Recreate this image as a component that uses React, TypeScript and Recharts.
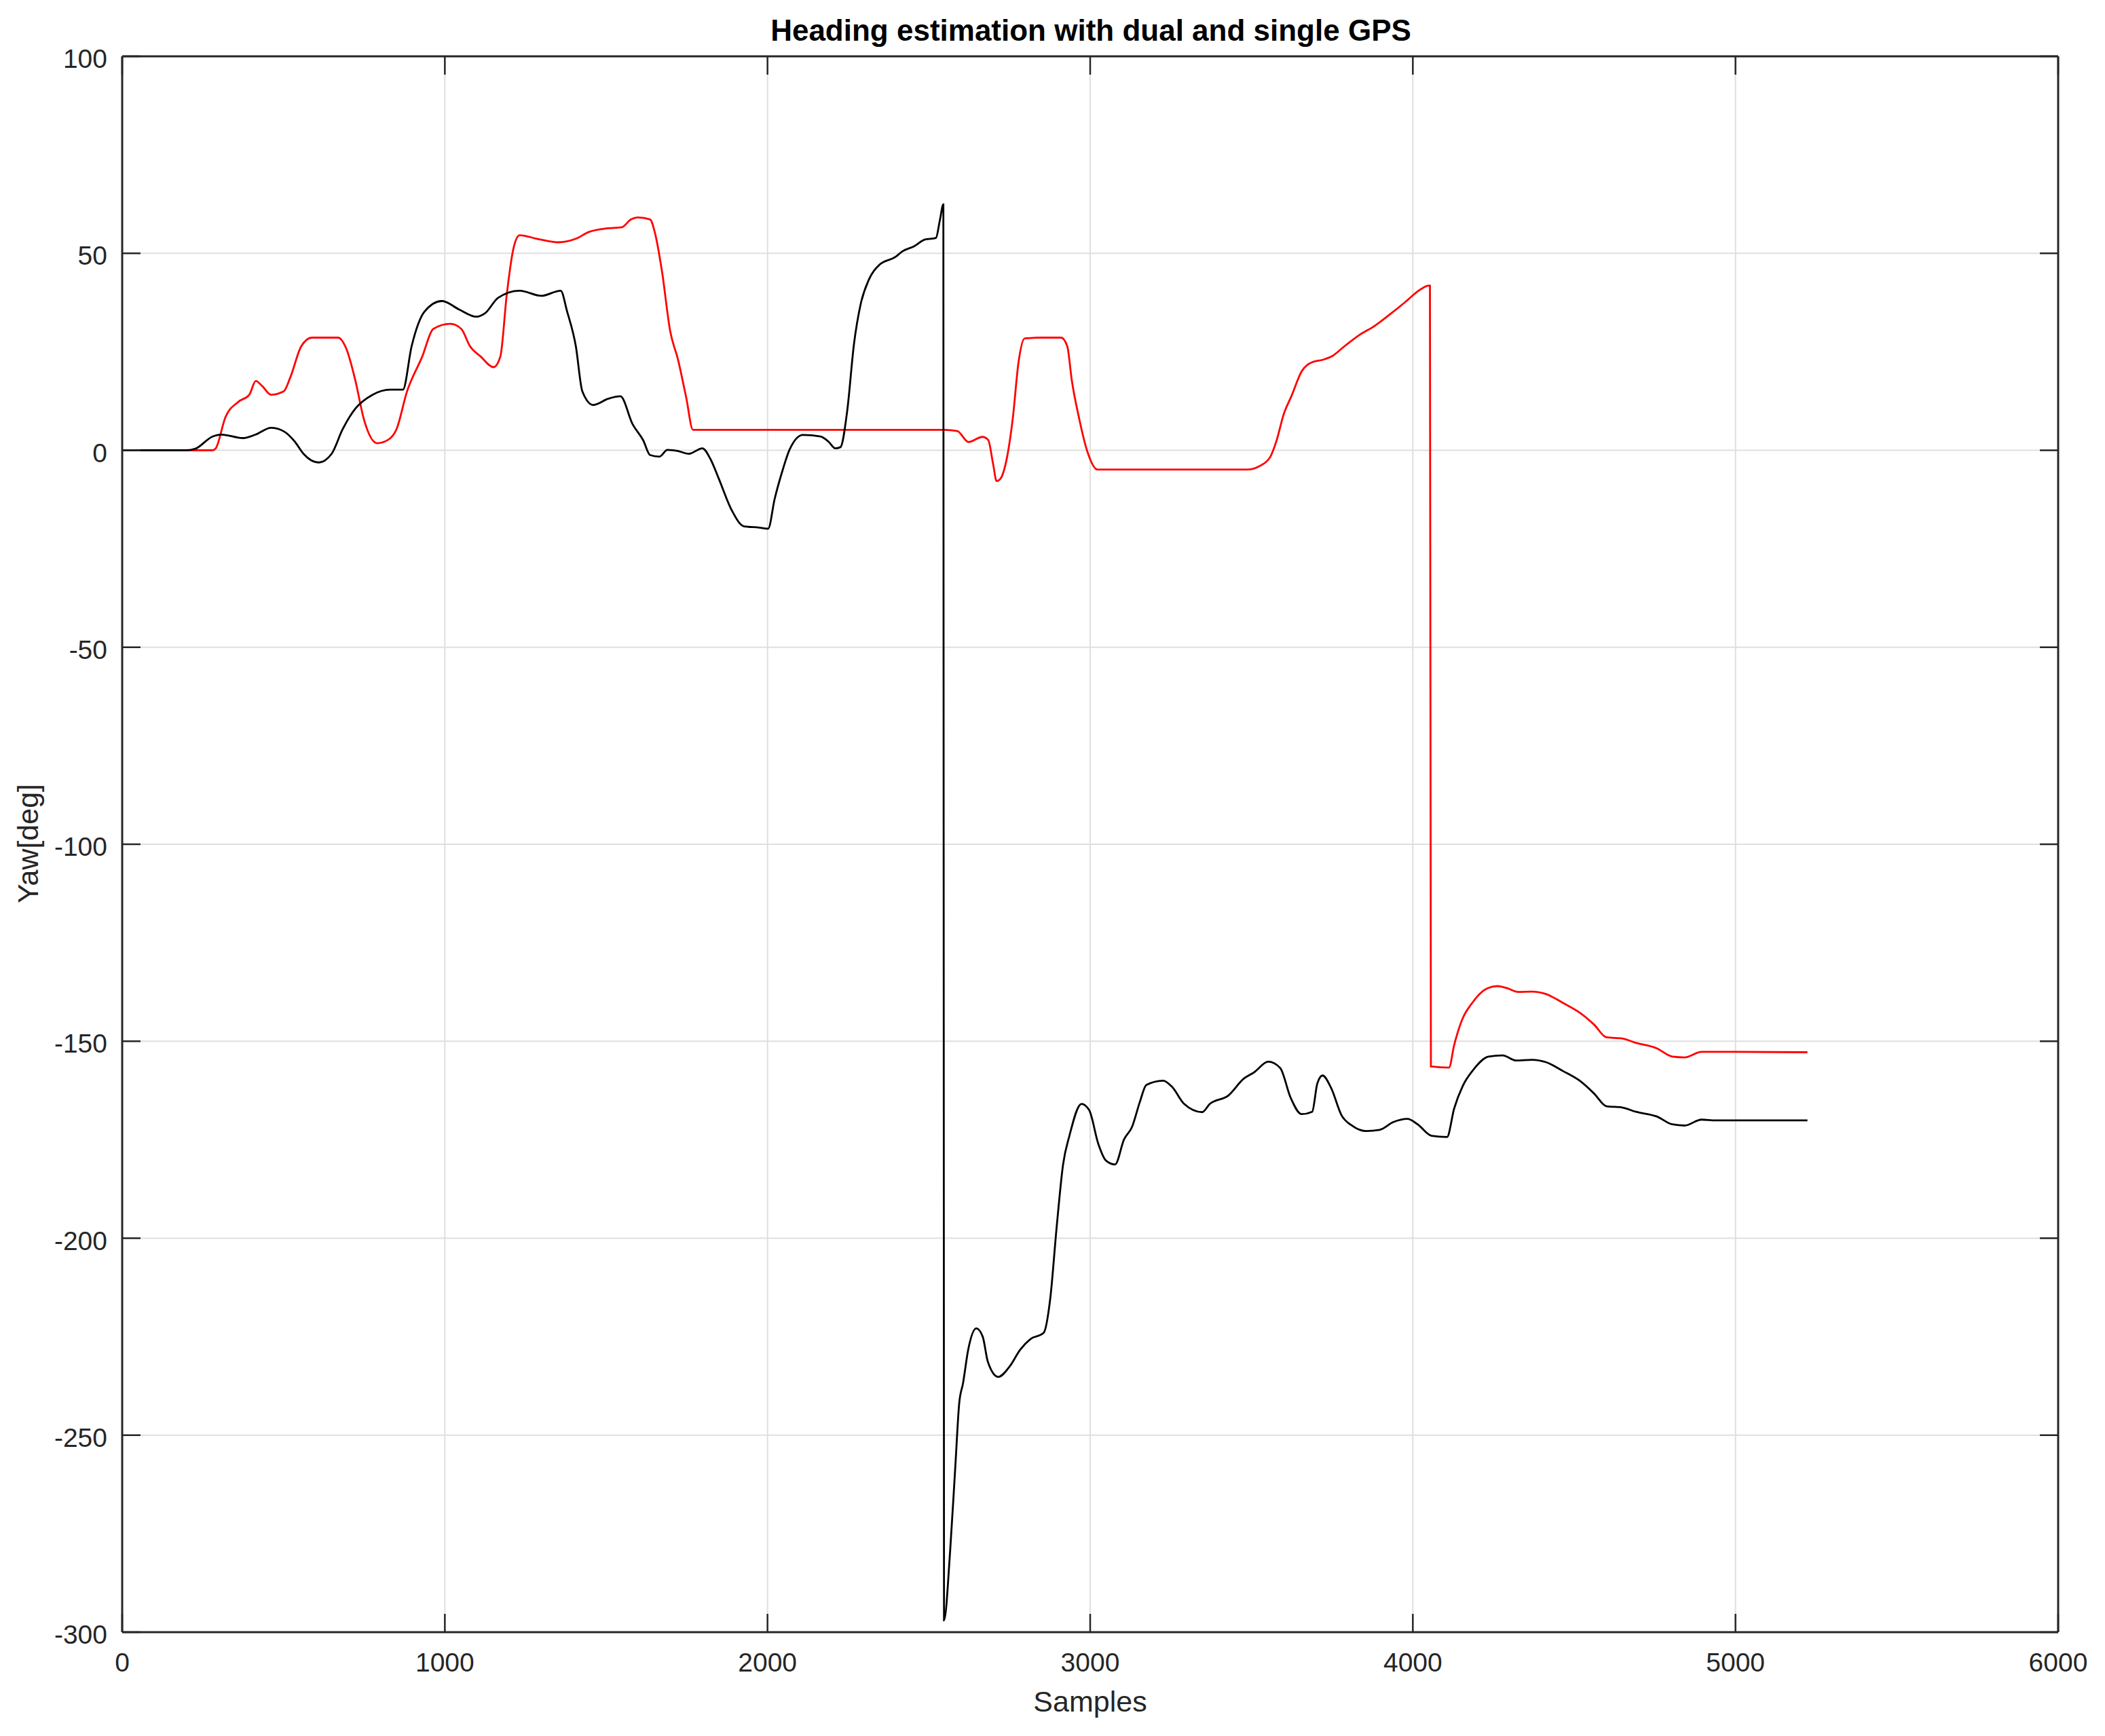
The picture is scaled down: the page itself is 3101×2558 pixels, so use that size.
import React from "react";
import { LineChart, Line, XAxis, YAxis, CartesianGrid } from "recharts";

// red trace
const dualSamples = [
  0, 280, 290, 320, 360, 394, 414, 434, 461, 501, 521, 555, 588, 669, 696, 723, 749, 790, 823, 850,
  883, 930, 964, 1017, 1051, 1078, 1111, 1151, 1172, 1192, 1212, 1232, 1285, 1352, 1406, 1446, 1500,
  1548, 1577, 1598, 1636, 1652, 1673, 1698, 1723, 1748, 1769, 2547, 2588, 2623, 2666, 2684, 2699,
  2710, 2722, 2741, 2760, 2778, 2797, 2849, 2910, 2929, 2943, 2966, 2990, 3023, 3487, 3525, 3558,
  3577, 3600, 3624, 3656, 3689, 3722, 3750, 3788, 3835, 3882, 3929, 3976, 4013, 4035, 4048, 4053,
  4056, 4112, 4128, 4155, 4181, 4230, 4262, 4294, 4326, 4369, 4412, 4466, 4520, 4562, 4600, 4648,
  4691, 4756, 4804, 4842, 4895, 4938, 5223,
];
const dualYaw = [
  0, 0, 0.5, 8.4, 12.3, 14.1, 17.6, 16.3, 14.1, 15, 18.5, 26.4, 28.6, 28.6, 25.5, 17.6, 7.9, 1.8, 2.6,
  5.3, 15, 23.8, 30.8, 32.1, 30.8, 26.4, 23.8, 21.1, 23.8, 39.6, 51, 54.6, 53.7, 52.8, 53.7, 55.4,
  56.3, 56.6, 58.6, 59.1, 58.6, 54.9, 45.4, 30.4, 22.9, 13.4, 5.2, 5.2, 4.9, 2.1, 3.4, 2.6, -3.4, -7.8,
  -7.2, -2.3, 8, 22.4, 28.4, 28.6, 28.6, 26.4, 17.8, 8, 0, -4.9, -4.9, -4, -1.7, 2.3, 9.2, 13.8, 20.1,
  22.4, 23, 23.9, 26.4, 29.3, 31.6, 34.5, 37.6, 40.2, 41.4, 41.8, 41.8, -156.4, -156.7, -151, -144.1,
  -140.6, -136.6, -136, -136.6, -137.5, -137.4, -138, -140.3, -142.9, -145.8, -149, -149.3, -150.4,
  -151.8, -153.9, -154.1, -152.7, -152.7, -152.8,
];

// black trace
const singleSamples = [
  0, 200, 227, 280, 307, 374, 414, 461, 501, 535, 562, 609, 649, 683, 723, 776, 830, 870, 897, 937,
  991, 1045, 1098, 1125, 1165, 1232, 1299, 1359, 1379, 1406, 1426, 1460, 1507, 1544, 1582, 1615,
  1636, 1665, 1690, 1723, 1756, 1798, 1823, 1848, 1889, 1927, 1973, 2002, 2022, 2047, 2068, 2110,
  2164, 2189, 2210, 2226, 2247, 2268, 2289, 2314, 2347, 2397, 2418, 2455, 2488, 2522, 2534, 2545,
  2547, 2566, 2582, 2594, 2606, 2622, 2647, 2667, 2683, 2715, 2751, 2783, 2815, 2856, 2876, 2896,
  2916, 2936, 2973, 2997, 3025, 3049, 3077, 3105, 3130, 3154, 3174, 3226, 3254, 3291, 3347, 3371,
  3428, 3476, 3508, 3552, 3589, 3621, 3655, 3688, 3704, 3720, 3747, 3779, 3811, 3854, 3897, 3940,
  3983, 4015, 4058, 4106, 4128, 4155, 4187, 4235, 4278, 4321, 4369, 4412, 4466, 4520, 4562, 4600,
  4648, 4691, 4756, 4804, 4842, 4895, 4938, 5223,
];
const singleYaw = [
  0, 0, 0.4, 3.5, 4, 3.1, 4, 5.7, 4.8, 2.2, -0.9, -3.1, -0.9, 5.3, 10.6, 14.1, 15.4, 15.4, 26.4, 35.2,
  37.9, 35.7, 33.9, 34.8, 38.7, 40.5, 39.2, 40.5, 35.2, 26.4, 15, 11.5, 13.1, 13.7, 6.6, 2.5, -1.2,
  -1.6, 0.1, -0.2, -0.9, 0.5, -2.2, -7, -15.2, -19.3, -19.6, -19.9, -12.4, -5, 0.1, 3.9, 3.5, 2.2,
  0.5, 0.8, 10, 27, 37.2, 43.3, 47.1, 49.1, 50.5, 51.8, 53.5, 53.9, 58.3, 62.4, -297, -279.4, -258,
  -242, -236.8, -228.3, -222.9, -225, -231.4, -235.2, -232.5, -228.3, -225.6, -224, -215.5, -197.3,
  -181.3, -173.9, -165.9, -167.5, -176, -180.3, -181.3, -174.9, -171.7, -165.4, -161.1, -160, -161.6,
  -165.9, -168, -165.9, -163.8, -159.5, -157.9, -155.2, -156.8, -164.3, -168.5, -167.9, -160.7,
  -158.7, -161.9, -168.8, -171.4, -172.8, -172.5, -170.5, -169.7, -171.1, -174, -174.3, -167.1,
  -161.3, -157.3, -153.9, -153.6, -154.9, -154.7, -155.3, -157.6, -160.2, -163.3, -166.5, -166.8,
  -167.9, -169.1, -171.1, -171.4, -169.9, -170.1, -170.1,
];

const xTicks = [0, 1000, 2000, 3000, 4000, 5000, 6000];
const yTicks = [-300, -250, -200, -150, -100, -50, 0, 50, 100];

const dualData = dualSamples.map((x, i) => ({ x, y: dualYaw[i] }));
const singleData = singleSamples.map((x, i) => ({ x, y: singleYaw[i] }));

const AXIS = "#262626";
const FONT = "'Liberation Sans', Arial, Helvetica, sans-serif";
const TICK_LEN = 27;

const BottomTick = (props: any) => {
  const { x, y, payload } = props;
  return (
    <g>
      <line x1={x} y1={y} x2={x} y2={y - TICK_LEN} stroke={AXIS} strokeWidth={2.5} />
      <text x={x} y={y + 58} textAnchor="middle" fontSize={39} fill={AXIS}>
        {payload.value}
      </text>
    </g>
  );
};

const TopTick = (props: any) => {
  const { x, y } = props;
  return <line x1={x} y1={y} x2={x} y2={y + TICK_LEN} stroke={AXIS} strokeWidth={2.5} />;
};

const LeftTick = (props: any) => {
  const { x, y, payload } = props;
  return (
    <g>
      <line x1={x} y1={y} x2={x + TICK_LEN} y2={y} stroke={AXIS} strokeWidth={2.5} />
      <text x={x - 22} y={y + 17} textAnchor="end" fontSize={39} fill={AXIS}>
        {payload.value}
      </text>
    </g>
  );
};

const RightTick = (props: any) => {
  const { x, y } = props;
  return <line x1={x} y1={y} x2={x - TICK_LEN} y2={y} stroke={AXIS} strokeWidth={2.5} />;
};

export default function App() {
  return (
    <div
      style={{
        position: "absolute",
        left: 0,
        top: 0,
        width: 3101,
        height: 2558,
        background: "#fff",
        fontFamily: FONT,
      }}
    >
      <LineChart width={3101} height={2558} margin={{ top: 82, right: 68, bottom: 0, left: 0 }}>
        <CartesianGrid
          xAxisId="b"
          yAxisId="l"
          stroke="#dfdfdf"
          strokeWidth={2}
          verticalValues={xTicks}
          horizontalValues={yTicks}
        />
        <XAxis
          xAxisId="b"
          type="number"
          dataKey="x"
          domain={[0, 6000]}
          ticks={xTicks}
          interval={0}
          height={153}
          tickSize={0}
          tickMargin={0}
          tickLine={false}
          tick={<BottomTick />}
          axisLine={{ stroke: AXIS, strokeWidth: 3 }}
          allowDataOverflow
          label={{
            value: "Samples",
            position: "insideBottom",
            offset: 36,
            fontSize: 43,
            fill: AXIS,
          }}
        />
        <XAxis
          xAxisId="t"
          orientation="top"
          type="number"
          dataKey="x"
          domain={[0, 6000]}
          ticks={xTicks}
          interval={0}
          height={1}
          tickSize={0}
          tickMargin={0}
          tickLine={false}
          tick={<TopTick />}
          axisLine={{ stroke: AXIS, strokeWidth: 3 }}
          allowDataOverflow
          label={{
            content: () => (
              <text x={1607} y={60} textAnchor="middle" fontSize={44} fontWeight="bold" fill="#000">
                Heading estimation with dual and single GPS
              </text>
            ),
          }}
        />
        <YAxis
          yAxisId="l"
          type="number"
          domain={[-300, 100]}
          ticks={yTicks}
          interval={0}
          width={180}
          tickSize={0}
          tickMargin={0}
          tickLine={false}
          tick={<LeftTick />}
          axisLine={{ stroke: AXIS, strokeWidth: 3 }}
          allowDataOverflow
          label={{
            content: () => (
              <text
                transform="translate(56,1243) rotate(-90)"
                textAnchor="middle"
                fontSize={43}
                fill={AXIS}
              >
                Yaw[deg]
              </text>
            ),
          }}
        />
        <YAxis
          yAxisId="r"
          orientation="right"
          type="number"
          domain={[-300, 100]}
          ticks={yTicks}
          interval={0}
          width={1}
          tickSize={0}
          tickMargin={0}
          tickLine={false}
          tick={<RightTick />}
          axisLine={{ stroke: AXIS, strokeWidth: 3 }}
          allowDataOverflow
        />
        <Line
          xAxisId="b"
          yAxisId="l"
          data={dualData}
          dataKey="y"
          type="monotone"
          stroke="#ff0000"
          strokeWidth={2.8}
          dot={false}
          activeDot={false}
          isAnimationActive={false}
        />
        <Line
          xAxisId="b"
          yAxisId="l"
          data={singleData}
          dataKey="y"
          type="monotone"
          stroke="#000000"
          strokeWidth={2.8}
          dot={false}
          activeDot={false}
          isAnimationActive={false}
        />
      </LineChart>
    </div>
  );
}
